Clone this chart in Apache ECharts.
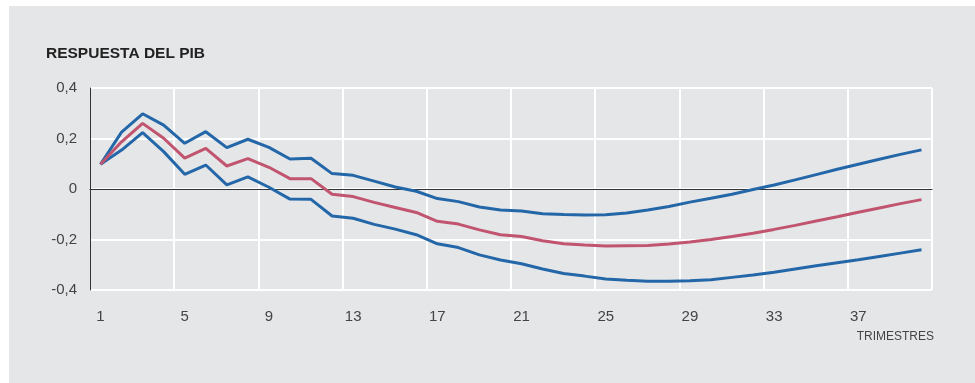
<!DOCTYPE html>
<html><head><meta charset="utf-8">
<script src="https://cdn.jsdelivr.net/npm/echarts@6/dist/echarts.min.js"></script>
<style>
html,body{margin:0;padding:0;background:#fff;}
#bg{position:absolute;left:9px;top:6px;width:966px;height:377px;background:#e5e6e8;}
#chart{position:absolute;left:0;top:0;width:975px;height:383px;}
</style></head><body>
<div id="bg"></div><div id="chart"></div>
<script>
const titleText = 'RESPUESTA DEL PIB';
const xAxisTitle = 'TRIMESTRES';
const quarters = ['1','2','3','4','5','6','7','8','9','10','11','12','13','14','15','16','17','18','19','20',
  '21','22','23','24','25','26','27','28','29','30','31','32','33','34','35','36','37','38','39','40'];
const upperBand = [0.098,0.225,0.298,0.253,0.181,0.227,0.164,0.197,0.165,0.119,
  0.122,0.061,0.054,0.031,0.008,-0.009,-0.038,-0.050,-0.071,-0.083,
  -0.087,-0.098,-0.101,-0.103,-0.102,-0.095,-0.083,-0.069,-0.052,-0.037,
  -0.021,-0.002,0.016,0.036,0.057,0.078,0.098,0.118,0.137,0.155];
const central = [0.098,0.187,0.260,0.201,0.122,0.161,0.091,0.120,0.086,0.041,
  0.041,-0.021,-0.030,-0.053,-0.073,-0.093,-0.128,-0.139,-0.162,-0.181,
  -0.188,-0.205,-0.217,-0.222,-0.226,-0.225,-0.224,-0.218,-0.210,-0.200,
  -0.188,-0.175,-0.160,-0.144,-0.127,-0.110,-0.092,-0.075,-0.058,-0.042];
const lowerBand = [0.098,0.154,0.223,0.148,0.058,0.095,0.016,0.048,0.007,-0.040,
  -0.041,-0.107,-0.116,-0.140,-0.159,-0.181,-0.217,-0.232,-0.261,-0.281,
  -0.296,-0.317,-0.335,-0.345,-0.356,-0.361,-0.365,-0.365,-0.363,-0.359,
  -0.350,-0.341,-0.330,-0.317,-0.304,-0.292,-0.280,-0.267,-0.254,-0.241];
const yMin = -0.4, yMax = 0.4, yStep = 0.2;

const chart = echarts.init(document.getElementById('chart'), null, {renderer:'canvas'});
const fontFam = '"Liberation Sans", Arial, sans-serif';
chart.setOption({
  backgroundColor: 'transparent',
  animation: false,
  title: {
    text: titleText, left: 46, top: 46, padding: 0,
    textStyle: {fontSize: 15.5, fontWeight: 'bold', color: '#222', fontFamily: fontFam}
  },
  graphic: [{
    type: 'text', right: 41, top: 331,
    style: {text: xAxisTitle, fontSize: 12, fill: '#444', fontFamily: fontFam}
  }],
  grid: {left: 90, right: 43, top: 88, bottom: 93, containLabel: false},
  xAxis: {
    type: 'category', data: quarters, boundaryGap: true, z: 3,
    axisLine: {show: true, lineStyle: {color: '#333', width: 1}},
    axisTick: {show: false},
    axisLabel: {interval: 3, margin: 19, fontSize: 15, color: '#444', fontFamily: fontFam},
    splitLine: {show: true, interval: function(i){ return i % 4 === 0 && i > 0; },
      lineStyle: {color: '#ffffff', width: 2}}
  },
  yAxis: {
    type: 'value', min: yMin, max: yMax, interval: yStep, z: 2,
    axisLine: {show: true, lineStyle: {color: '#333', width: 1}},
    axisTick: {show: false},
    axisLabel: {margin: 13, fontSize: 15, color: '#444', fontFamily: fontFam,
      formatter: function(v){ return Math.abs(v) < 1e-9 ? '0' : v.toFixed(1).replace('.', ','); }},
    splitLine: {show: true, lineStyle: {color: '#ffffff', width: 2}}
  },
  series: [
    {type: 'line', data: upperBand, symbol: 'none', smooth: false,
      lineStyle: {color: '#2467a8', width: 3}, z: 3,
      markLine: {silent: true, symbol: 'none', label: {show: false}, z: 1,
        lineStyle: {color: '#222', width: 1, type: 'solid'},
        data: [[{coord: [quarters[0], 0]}, {coord: [quarters[quarters.length-1], 0]}]]}},
    {type: 'line', data: lowerBand, symbol: 'none', smooth: false,
      lineStyle: {color: '#2467a8', width: 3}, z: 3},
    {type: 'line', data: central, symbol: 'none', smooth: false,
      lineStyle: {color: '#c1546f', width: 3}, z: 4}
  ]
});
</script>
</body></html>
